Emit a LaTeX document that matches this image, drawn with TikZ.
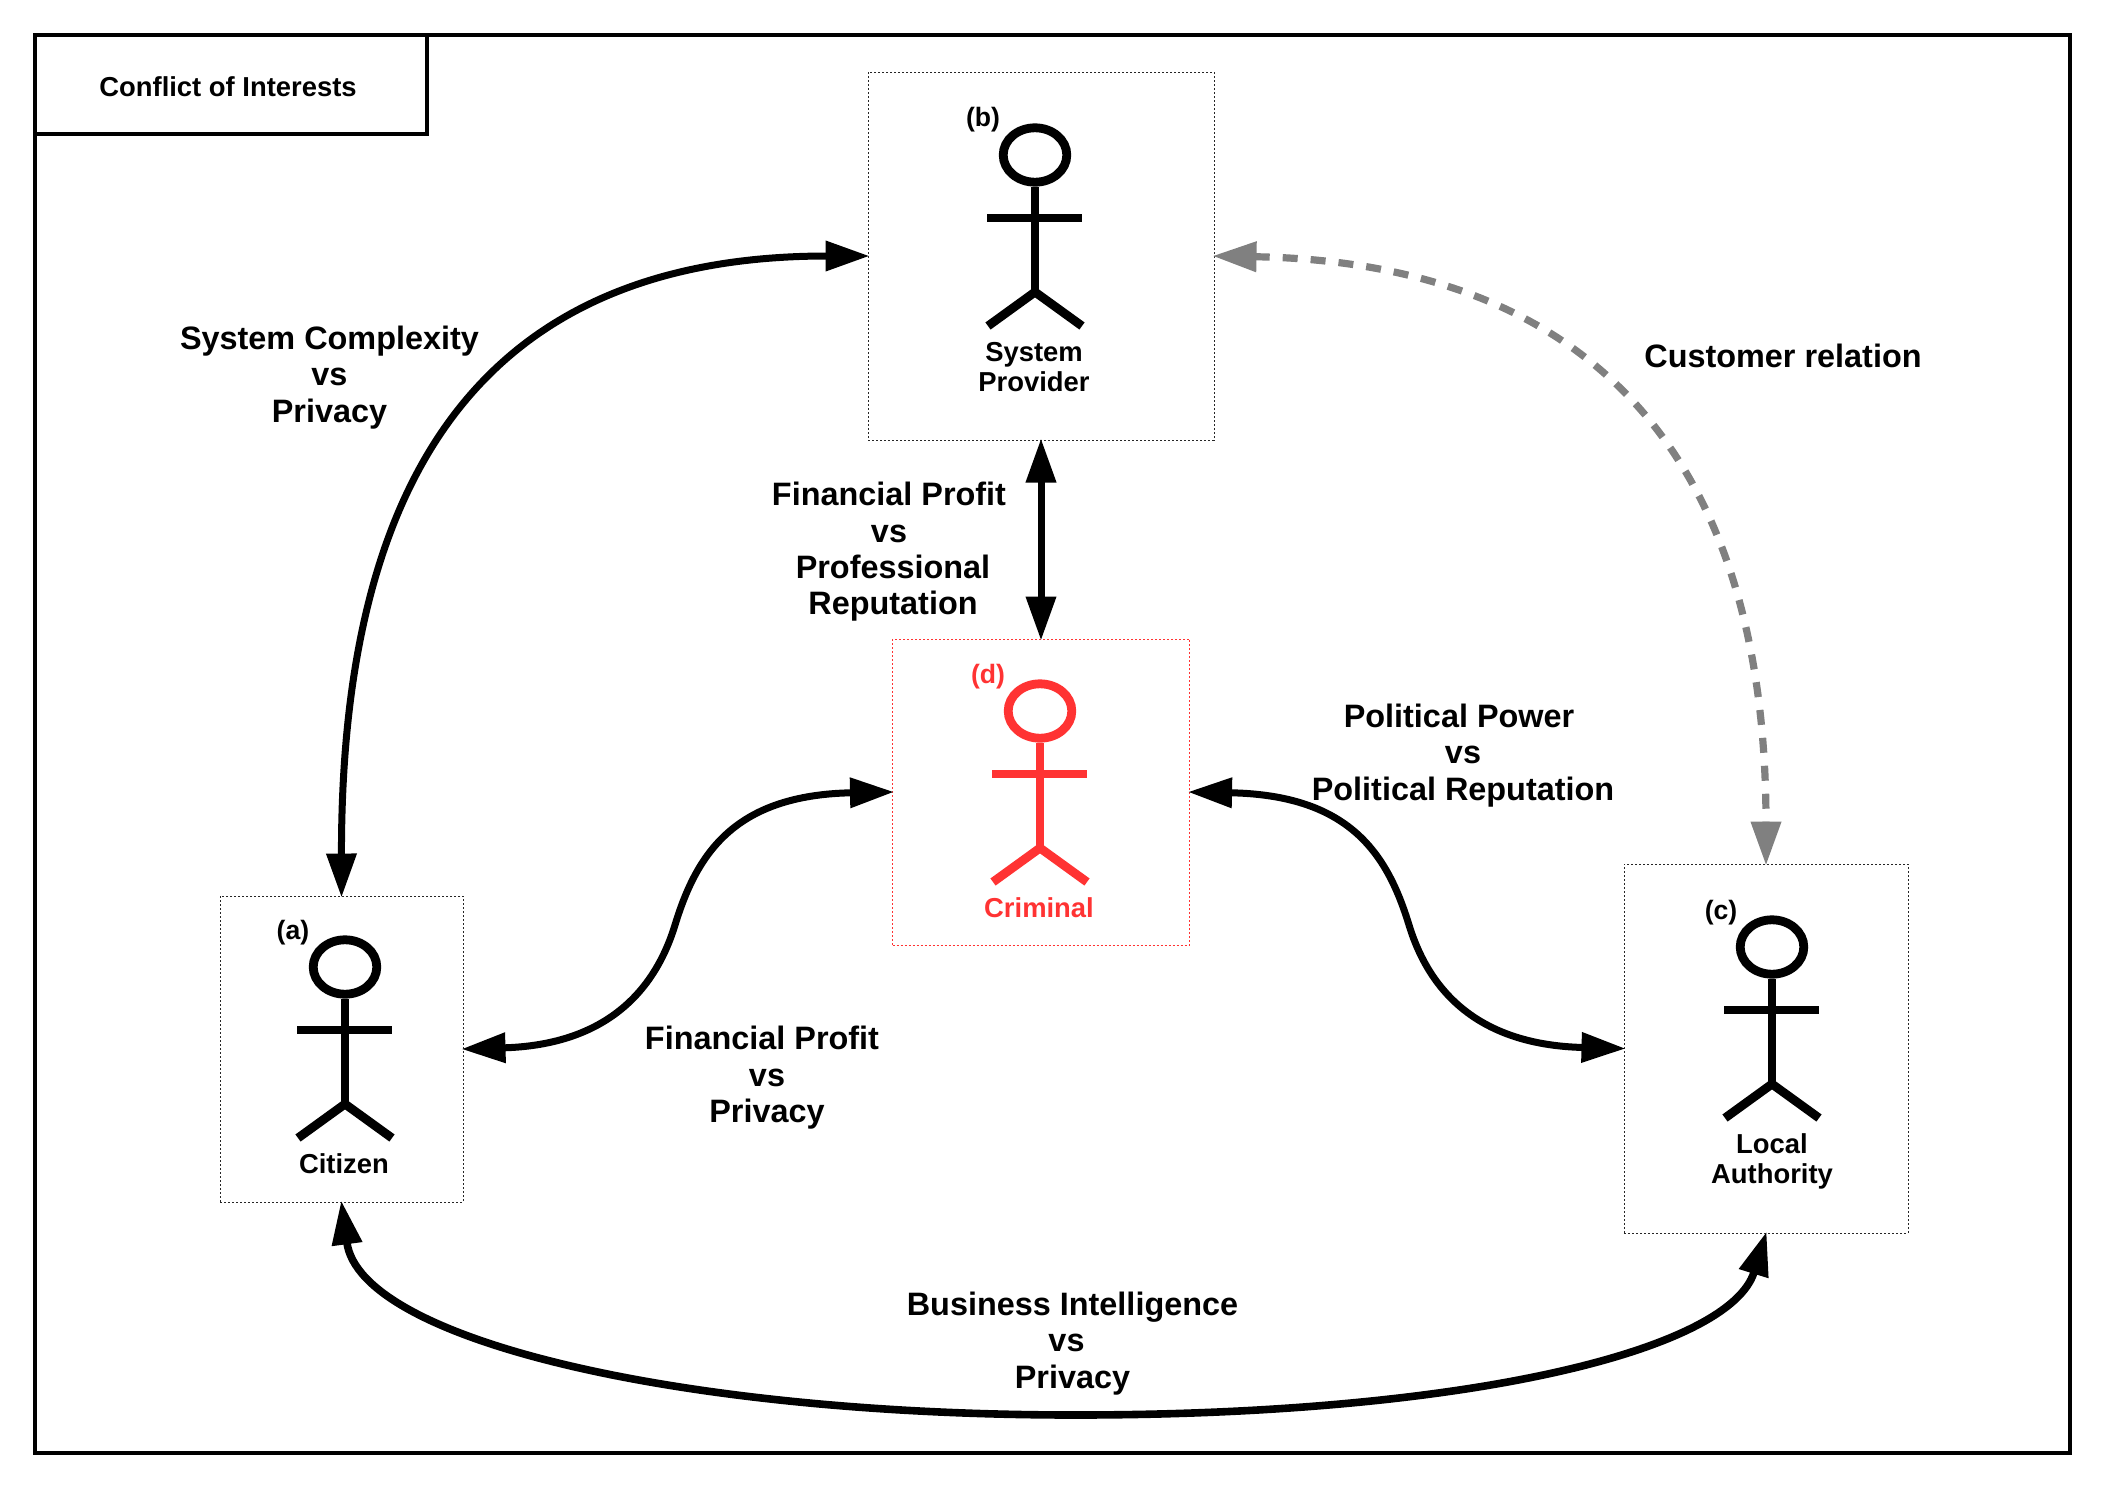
\documentclass[tikz,border=0pt]{standalone}
\usepackage{fontspec}
\setmainfont{Liberation Sans}
\usetikzlibrary{arrows.meta}
\definecolor{crim}{HTML}{FF3333}
\definecolor{cust}{HTML}{808080}
\newcommand{\gapr}[1]{\rule{#1}{0pt}}
\tikzset{
  actorbox/.style={draw=black!85,line width=0.5pt,dash pattern=on 1pt off 1pt,inner sep=0pt,fill=none},
  redbox/.style={actorbox,draw=crim},
  biglabel/.style={font=\fontsize{16.2}{18.2}\selectfont\bfseries,align=center,inner sep=0pt},
  smalllabel/.style={font=\fontsize{13.7}{15}\selectfont\bfseries,align=center,inner sep=0pt},
  taglabel/.style={font=\fontsize{13.3}{15}\selectfont\bfseries,inner sep=0pt},
  conflict/.style={line width=3.5pt,shorten >=-1pt,shorten <=-1pt,{Triangle[length=22pt,width=14.5pt]}-{Triangle[length=22pt,width=14.5pt]}},
  relation/.style={line width=3.6pt,draw=cust,shorten >=-1pt,shorten <=-1pt,dash pattern=on 7.5pt off 6.5pt,{Triangle[length=22pt,width=14.5pt]}-{Triangle[length=22pt,width=14.5pt]},color=cust},
}
\newcommand{\stickman}[3]{%
  \begin{scope}[shift={(#1,#2)},draw=#3,line width=4.4pt]
    \draw (1035,155) ellipse [x radius=15.9pt,y radius=13.6pt];
    \draw (1035,186.5) -- (1035,292);
    \draw (987,218) -- (1082,218);
    \draw (988,326) -- (1035,292) -- (1082,326);
  \end{scope}}
\begin{document}
\begin{tikzpicture}[x=0.5pt,y=-0.5pt]
\useasboundingbox (0,0) rectangle (2105,1489);
\draw[line width=1.8pt] (35,35) rectangle (2070,1453);
\node[draw,line width=1.8pt,minimum width=196pt,minimum height=49.5pt,inner sep=0pt] (title) at (231,84.5) {};
\node[font=\fontsize{13.7}{16}\selectfont\bfseries,inner sep=0pt] (titletext) at (228,87) {Conflict of Interests};

\node[actorbox,minimum width=173pt,minimum height=184pt] (b) at (1041,256) {};
\node[actorbox,minimum width=121.5pt,minimum height=153pt] (a) at (341.5,1049) {};
\node[actorbox,minimum width=142pt,minimum height=184.5pt] (c) at (1766,1048.5) {};
\node[redbox,minimum width=148.5pt,minimum height=153pt] (d) at (1041,792) {};

\stickman{0}{0}{black}
\stickman{-690}{812}{black}
\stickman{737}{792}{black}
\stickman{5}{556}{crim}

\node[taglabel] (tagb) at (983,120) {(b)};
\node[taglabel] (taga) at (293,933) {(a)};
\node[taglabel] (tagc) at (1721,913) {(c)};
\node[taglabel,text=crim] (tagd) at (988,677) {(d)};

\node[smalllabel] (lb) at (1034,367) {System\\Provider};
\node[smalllabel] (la) at (344,1164) {Citizen};
\node[smalllabel] (lc) at (1772,1161.5) {Local\\Authority};
\node[smalllabel,text=crim] (ld) at (1039,908) {Criminal};

\draw[conflict] (a.north) .. controls (341,480) and (480,256) .. (b.west);
\draw[conflict] (b.south) -- (d.north);
\draw[conflict] (a.east) .. controls (600,1045) and (653,997) .. (675,925) .. controls (697,853) and (735,795) .. (d.west);
\draw[conflict] (d.east) .. controls (1349,795) and (1387,853) .. (1409,925) .. controls (1431,997) and (1484,1045) .. (c.west);
\draw[conflict,line width=3.8pt] (a.south) .. controls (360,1340) and (680,1415) .. (1075,1415) .. controls (1470,1415) and (1730,1350) .. (c.south);
\draw[relation] (b.east) .. controls (1550,262) and (1766,415) .. (c.north);

\node[biglabel] (n1) at (329.5,377.5) {System Complexity\\vs\\Privacy};
\node[biglabel] (n2) at (893,552) {Financial Profit\gapr{4pt}\\vs\gapr{4pt}\\Professional\\Reputation};
\node[biglabel] (n3) at (1463,755.5) {Political Power\gapr{4pt}\\vs\\Political Reputation};
\node[biglabel] (n4) at (767,1078) {Financial Profit\gapr{5pt}\\vs\\Privacy};
\node[biglabel] (n5) at (1072.5,1343.5) {Business Intelligence\\vs\gapr{6pt}\\Privacy};
\node[biglabel] (n6) at (1783,356) {Customer relation};
\end{tikzpicture}
\end{document}
